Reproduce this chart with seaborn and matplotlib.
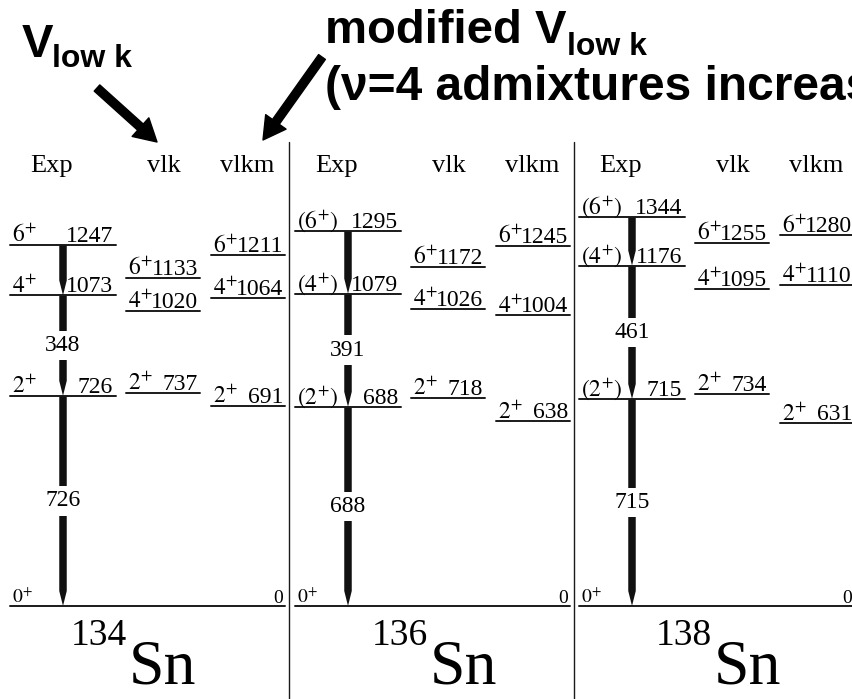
import numpy as np
import pandas as pd
import matplotlib.pyplot as plt
import seaborn as sns

sns.set_theme(style="white")
plt.rcParams['font.family'] = ['Liberation Serif', 'DejaVu Serif']
plt.rcParams['mathtext.fontset'] = 'stix'
plt.rcParams['text.color'] = 'black'

# level scheme data (keV)
nuclei = ["134", "136", "138"]
exp_spins = [["0+", "2+", "4+", "6+"],
             ["0+", "(2+)", "(4+)", "(6+)"],
             ["0+", "(2+)", "(4+)", "(6+)"]]
exp_E = [[0, 726, 1073, 1247],
         [0, 688, 1079, 1295],
         [0, 715, 1176, 1344]]
calc_spins = ["2+", "4+", "6+"]
vlk_E = [[737, 1020, 1133],
         [718, 1026, 1172],
         [734, 1095, 1255]]
vlkm_E = [[691, 1064, 1211],
          [638, 1004, 1245],
          [631, 1110, 1280]]
gamma_lbl = [["726", "348"], ["688", "391"], ["715", "461"]]
headers = ["Exp", "vlk", "vlkm"]

# layout (pixels)
Y0, S = 606, 0.2895
def ey(ypix):
    return (Y0 - ypix) / S

panel_left = [10, 295, 579]
cols = {"Exp": (0, 106), "vlk": (116, 190), "vlkm": (201, 275)}
head_x = [42, 154, 237]
bar_x = 53
iso_x = [127, 428, 712]

fig = plt.figure(figsize=(8.53, 6.99), dpi=100)
ax = fig.add_axes([0, 0, 1, 1])
ax.set_xlim(0, 853)
ax.set_ylim(ey(699), ey(0))
ax.axis('off')

def spin_tex(s):
    return "$" + s.replace("+", "^{+}") + "$"

# level lines
rows = []
seg = 0
for p in range(3):
    L = panel_left[p]
    for name, energies in [("Exp", exp_E[p][1:]), ("vlk", vlk_E[p]), ("vlkm", vlkm_E[p])]:
        a, b = cols[name]
        for E in energies:
            rows.append((seg, L + a, E)); rows.append((seg, L + b, E)); seg += 1
    rows.append((seg, L, 0)); rows.append((seg, L + 275, 0)); seg += 1
levels = pd.DataFrame(rows, columns=["seg", "x", "E"])
sns.lineplot(data=levels, x="x", y="E", units="seg", estimator=None, sort=False,
             color="#1a1a1a", lw=1.4, ax=ax, legend=False)

fs = 17
dy = 3 / S
for p in range(3):
    L = panel_left[p]
    # headers
    for h, hx in zip(headers, head_x):
        ax.text(L + hx, ey(172), h, ha='center', va='baseline', fontsize=19)
    # exp labels
    a, b = cols["Exp"]
    ax.text(L + a + 2, dy, spin_tex(exp_spins[p][0]), fontsize=14, va='baseline')
    ax.text(L + 273, dy, "0", fontsize=14, ha='right', va='baseline')
    for s, E in zip(exp_spins[p][1:], exp_E[p][1:]):
        ax.text(L + a + 2, E + dy, spin_tex(s), fontsize=fs, va='baseline')
        ax.text(L + b - 3, E + dy, str(E), fontsize=fs, ha='right', va='baseline')
    for name, energies in [("vlk", vlk_E[p]), ("vlkm", vlkm_E[p])]:
        a, b = cols[name]
        for s, E in zip(calc_spins, energies):
            ax.text(L + a + 2, E + dy, spin_tex(s), fontsize=fs, va='baseline')
            ax.text(L + b - 2, E + dy, str(E), fontsize=fs, ha='right', va='baseline')
    # gamma transitions
    xc = L + bar_x
    w = 7.5
    t = 15 / S
    E = exp_E[p]
    for i in range(3, 0, -1):
        top, bot = E[i], E[i - 1]
        ax.fill([xc - w / 2, xc + w / 2, xc + w / 2, xc, xc - w / 2],
                [top, top, bot + t, bot, bot + t], color='#111', lw=0)
    for lbl, (top, bot) in zip(gamma_lbl[p], [(E[1], E[0]), (E[2], E[1])]):
        ax.text(xc, (top + bot) / 2, lbl, fontsize=fs, ha='center', va='center',
                bbox=dict(fc='white', ec='none', pad=3))
    # isotope label
    ax.text(iso_x[p], ey(645), nuclei[p], fontsize=27, ha='right', va='baseline')
    ax.text(iso_x[p] + 2, ey(684), "Sn", fontsize=46, ha='left', va='baseline')

# dividers
for xd in [289.5, 574]:
    ax.plot([xd, xd], [ey(142), ey(699)], color='#1a1a1a', lw=1.0)

# annotations on top
sans = ['Liberation Sans', 'DejaVu Sans']
ax.text(22, ey(57), "V", fontsize=34, fontweight='bold', family=sans, va='baseline')
ax.text(52, ey(67), "low k", fontsize=23, fontweight='bold', family=sans, va='baseline')
ax.text(325, ey(43), "modified V", fontsize=34, fontweight='bold', family=sans, va='baseline')
ax.text(567, ey(55), "low k", fontsize=23, fontweight='bold', family=sans, va='baseline')
ax.text(325, ey(100), "(ν=4 admixtures increase)", fontsize=34.5, fontweight='bold',
        family=sans, va='baseline')

arrow = dict(arrowstyle='simple,head_length=0.8,head_width=0.9,tail_width=0.3',
             mutation_scale=20, fc='black', ec='black', shrinkA=0, shrinkB=0)
ax.annotate('', xy=(157, ey(142)), xytext=(97, ey(88)), arrowprops=arrow)
ax.annotate('', xy=(263, ey(140)), xytext=(322, ey(57)), arrowprops=arrow)

fig.savefig("out.png", dpi=100)
